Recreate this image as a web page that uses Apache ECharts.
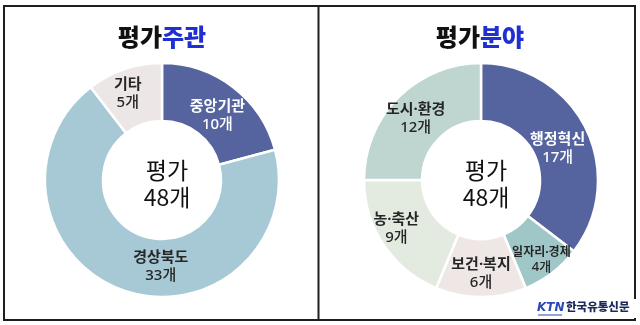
<!DOCTYPE html>
<html>
<head>
<meta charset="utf-8">
<script src="https://cdn.jsdelivr.net/npm/echarts@6/dist/echarts.min.js"></script>
<style>
  html, body { margin: 0; padding: 0; background: #ffffff; }
  #chart { width: 640px; height: 325px; }
</style>
</head>
<body>
<div id="chart"></div>
<script>
// 평가주관 (evaluation organizer)
const organizerNames = ['중앙기관', '경상북도', '기타'];
const organizerCounts = [10, 33, 5];

// 평가분야 (evaluation field)
const fieldNames = ['행정혁신', '일자리·경제', '보건·복지', '농·축산', '도시·환경'];
const fieldCounts = [17, 4, 6, 9, 12];

const totalCount = 48;

// slice colours
const organizerColors = ['#55649f', '#a6c9d5', '#ece7e6'];
const fieldColors = ['#55649f', '#a0c7c8', '#efe7e5', '#e3ebe1', '#bed5d0'];

// small nudges of the in-slice captions away from the default mid-ring spot
const organizerLabelShift = [[0, 8], [28, 1], [-5, 0]];
const fieldLabelShift = [[-5, 9], [5, 8], [0, 3], [-9, -2], [-1, 3]];

const FONT = '"Noto Sans CJK KR", "Noto Sans", sans-serif';
// Latin face first so the middle dot stays narrow; Hangul falls back to CJK
const LABEL_FONT = '"Noto Sans", "Noto Sans CJK KR", sans-serif';

function labelRich(color, nameSize, countSize) {
  return {
    n: { fontFamily: LABEL_FONT, fontSize: nameSize, fontWeight: 'bold', color: color, lineHeight: nameSize + 3 },
    c: { fontFamily: LABEL_FONT, fontSize: countSize, fontWeight: 500, color: color, lineHeight: countSize + 3 }
  };
}

function buildData(names, counts, colors, shifts, nameSizes, countSizes) {
  return names.map((n, i) => ({
    name: n,
    value: counts[i],
    itemStyle: { color: colors[i] },
    label: {
      offset: shifts[i],
      rich: labelRich(i === 0 ? '#ffffff' : '#262626', nameSizes[i], countSizes[i])
    }
  }));
}

const organizerData = buildData(organizerNames, organizerCounts, organizerColors,
  organizerLabelShift, [15, 15, 15], [15, 15, 15]);
const fieldData = buildData(fieldNames, fieldCounts, fieldColors,
  fieldLabelShift, [15, 12, 15, 15, 15], [15, 13, 15, 15, 15]);

function donut(center, data) {
  return {
    type: 'pie',
    center: center,
    radius: [59, 117],
    startAngle: 90,
    clockwise: true,
    avoidLabelOverlap: false,
    silent: true,
    itemStyle: { borderColor: '#ffffff', borderWidth: 2.5 },
    label: {
      show: true,
      position: 'inside',
      overflow: 'none',
      formatter: p => '{n|' + p.name + '}\n{c|' + p.value + '개}'
    },
    labelLine: { show: false },
    labelLayout: { hideOverlap: false },
    data: data
  };
}

function centerText(x) {
  return {
    text: '평가\n' + totalCount + '개',
    left: x,
    top: 152,
    textAlign: 'center',
    textStyle: {
      fontFamily: FONT,
      fontSize: 23,
      fontWeight: 400,
      lineHeight: 27,
      color: '#111111'
    }
  };
}

function headerText(x, blackPart, bluePart) {
  return {
    text: '{k|' + blackPart + '}{b|' + bluePart + '}',
    left: x,
    top: 20,
    textAlign: 'center',
    textStyle: {
      rich: {
        k: { fontFamily: FONT, fontSize: 24, fontWeight: 900, color: '#111111' },
        b: { fontFamily: FONT, fontSize: 24, fontWeight: 900, color: '#1f2fd2' }
      }
    }
  };
}

const chart = echarts.init(document.getElementById('chart'), null, { renderer: 'canvas' });

chart.setOption({
  backgroundColor: '#ffffff',
  animation: false,
  title: [
    headerText(157, '평가', '주관'),
    headerText(475, '평가', '분야'),
    centerText(162),
    centerText(481)
  ],
  series: [
    donut([162, 180], organizerData),
    donut([481, 180], fieldData)
  ],
  graphic: [
    // panel frame with the shared divider
    {
      type: 'rect',
      shape: { x: 4, y: 6, width: 631, height: 314 },
      style: { fill: null, stroke: '#1e1e1e', lineWidth: 2 },
      z: 10
    },
    {
      type: 'line',
      shape: { x1: 318.5, y1: 6, x2: 318.5, y2: 320 },
      style: { stroke: '#1e1e1e', lineWidth: 2 },
      z: 10
    },
    // masthead
    {
      type: 'rect',
      shape: { x: 563, y: 299, width: 73, height: 19 },
      style: { fill: '#ffffff' },
      z: 11
    },
    {
      type: 'text',
      left: 537,
      top: 302,
      style: {
        text: 'KTN',
        fontFamily: '"DejaVu Sans", sans-serif',
        fontSize: 12,
        fontWeight: 900,
        fontStyle: 'italic',
        fill: '#2a49b8'
      },
      z: 12
    },
    {
      type: 'line',
      shape: { x1: 538, y1: 315, x2: 562, y2: 315 },
      style: { stroke: '#2a49b8', lineWidth: 1 },
      z: 12
    },
    {
      type: 'text',
      left: 566,
      top: 301,
      style: {
        text: '한국유통신문',
        fontFamily: FONT,
        fontSize: 11.5,
        fontWeight: 900,
        fill: '#1b2a5c'
      },
      z: 12
    }
  ]
});
</script>
</body>
</html>
